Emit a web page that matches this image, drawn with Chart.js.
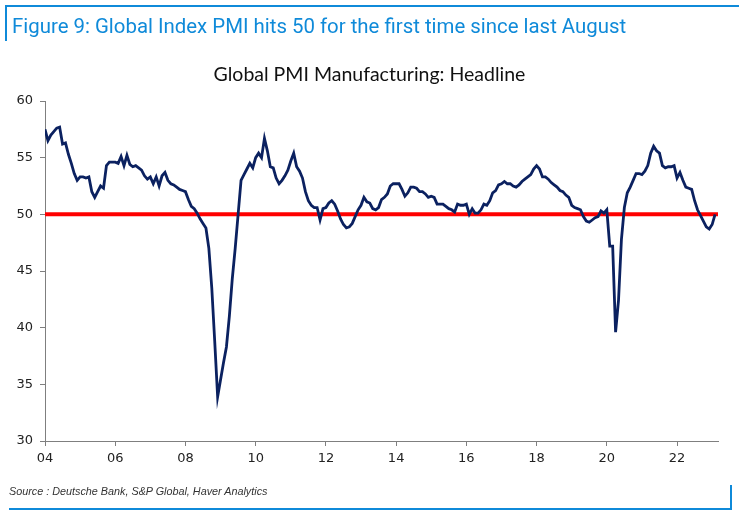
<!DOCTYPE html>
<html>
<head>
<meta charset="utf-8">
<script src="https://cdn.jsdelivr.net/npm/chart.js@4.4.0/dist/chart.umd.min.js"></script>
<style>
    html, body { margin: 0; padding: 0; background: #fff; }
    #wrap { position: relative; width: 739px; height: 515px; overflow: hidden; }
    #myChart { position: absolute; left: 0; top: 0; }
    .frame { position: absolute; background: #0f8ad9; }
    #figTitle {
        position: absolute; left: 12px; top: 14px;
        font-family: Roboto, sans-serif; font-size: 20.4px; color: #0f8ad9;
        white-space: nowrap;
    }
    #chartTitle {
        position: absolute; left: 0; width: 739px; top: 62px; text-align: center;
        font-family: Lato, sans-serif; font-size: 19.5px; color: #111;
    }
    #source {
        position: absolute; left: 9px; top: 485px;
        font-family: "Liberation Sans", sans-serif; font-style: italic; font-size: 10.8px; color: #333;
    }
</style>
</head>
<body>
<div id="wrap">
    <canvas id="myChart" width="739" height="515"></canvas>
    <div class="frame" style="left:5px; top:5px; width:734px; height:2px;"></div>
    <div class="frame" style="left:5px; top:5px; width:2px; height:36px;"></div>
    <div class="frame" style="left:9px; top:508px; width:723px; height:2px;"></div>
    <div class="frame" style="left:730px; top:485px; width:2px; height:25px;"></div>
    <div id="figTitle">Figure 9: Global Index PMI hits 50 for the first time since last August</div>
    <div id="chartTitle">Global PMI Manufacturing: Headline</div>
    <div id="source">Source : Deutsche Bank, S&amp;P Global, Haver Analytics</div>
</div>
<script>
// monthly Global PMI Manufacturing, Jan 2004 .. Feb 2023
const pmiValues = [
    57.5, 56.5, 57.0, 57.3, 57.6, 57.7, 56.2, 56.3, 55.3, 54.5, 53.6, 53.0, // 2004
    53.3, 53.3, 53.2, 53.3, 52.0, 51.5, 52.0, 52.5, 52.3, 54.3, 54.6, 54.6, // 2005
    54.6, 54.5, 55.1, 54.3, 55.2, 54.4, 54.2, 54.3, 54.1, 53.9, 53.4, 53.1, // 2006
    53.3, 52.7, 53.3, 52.5, 53.4, 53.7, 53.0, 52.7, 52.6, 52.4, 52.2, 52.1, // 2007
    52.0, 51.3, 50.7, 50.5, 50.1, 49.6, 49.2, 48.8, 47.0, 43.5, 38.8, 33.9, // 2008
    35.4, 36.9, 38.3, 41.0, 44.3, 47.0, 50.0, 53.0, 53.5, 54.0, 54.5, 54.1, // 2009
    55.0, 55.4, 55.0, 56.7, 55.6, 54.2, 54.1, 53.2, 52.7, 53.0, 53.4, 53.9, // 2010
    54.7, 55.4, 54.2, 53.8, 53.2, 52.0, 51.2, 50.8, 50.6, 50.6, 49.5, 50.5, // 2011
    50.6, 51.0, 51.2, 50.9, 50.3, 49.6, 49.1, 48.8, 48.9, 49.2, 49.8, 50.4, // 2012
    50.8, 51.5, 51.1, 51.0, 50.5, 50.4, 50.6, 51.3, 51.5, 51.8, 52.5, 52.7, // 2013
    52.7, 52.7, 52.2, 51.6, 51.9, 52.4, 52.4, 52.3, 52.0, 52.0, 51.8, 51.5, // 2014
    51.6, 51.5, 50.9, 50.9, 50.9, 50.7, 50.5, 50.4, 50.2, 50.9, 50.8, 50.8, // 2015
    50.9, 50.0, 50.5, 50.1, 50.1, 50.4, 50.9, 50.8, 51.2, 51.9, 52.1, 52.6, // 2016
    52.7, 52.9, 52.7, 52.7, 52.5, 52.4, 52.6, 52.9, 53.1, 53.3, 53.5, 54.0, // 2017
    54.3, 54.0, 53.3, 53.3, 53.1, 52.8, 52.6, 52.4, 52.1, 52.0, 51.7, 51.5, // 2018
    50.8, 50.6, 50.5, 50.4, 49.8, 49.4, 49.3, 49.5, 49.7, 49.8, 50.3, 50.1, // 2019
    50.4, 47.2, 47.2, 39.6, 42.4, 47.8, 50.6, 51.9, 52.4, 53.0, 53.6, 53.6, // 2020
    53.5, 53.8, 54.3, 55.4, 56.0, 55.6, 55.4, 54.3, 54.1, 54.2, 54.2, 54.3, // 2021
    53.2, 53.7, 53.0, 52.4, 52.3, 52.2, 51.2, 50.4, 49.9, 49.4, 48.9, 48.7, // 2022
    49.1, 50.0                                                              // 2023
];

const tickLabels = ["04", "06", "08", "10", "12", "14", "16", "18", "20", "22"];
const tickMonths = [0, 24, 48, 72, 96, 120, 144, 168, 192, 216];
const thresholdValue = 50;
const axisEndMonth = 230;

const lineData = pmiValues.map((v, i) => ({ x: i, y: v }));
const thresholdData = [{ x: 0, y: thresholdValue }, { x: axisEndMonth, y: thresholdValue }];

const axisColor = "#7f7f7f";
const tickFont = { family: "'DejaVu Sans', sans-serif", size: 13 };

const canvas = document.getElementById("myChart");
new Chart(canvas, {
    type: "line",
    data: {
        datasets: [
            {
                data: lineData,
                borderColor: "#0b2160",
                borderWidth: 2.8,
                pointRadius: 0,
                tension: 0
            },
            {
                data: thresholdData,
                borderColor: "#ff0000",
                borderWidth: 4,
                pointRadius: 0,
                tension: 0
            }
        ]
    },
    options: {
        responsive: false,
        animation: false,
        layout: { padding: { top: 101, right: 21, bottom: 44, left: 0 } },
        plugins: {
            legend: { display: false },
            tooltip: { enabled: false }
        },
        scales: {
            x: {
                type: "linear",
                min: 0,
                max: axisEndMonth,
                afterBuildTicks: (scale) => {
                    scale.ticks = tickMonths.map(m => ({ value: m }));
                },
                afterFit: (scale) => { scale.height = 30; },
                ticks: {
                    autoSkip: false,
                    maxRotation: 0,
                    padding: 5,
                    color: "#222",
                    font: tickFont,
                    callback: (value) => tickLabels[tickMonths.indexOf(value)] || ""
                },
                grid: { drawOnChartArea: false, drawTicks: true, tickLength: 5, color: axisColor },
                border: { display: true, color: axisColor, width: 1 }
            },
            y: {
                min: 30,
                max: 60,
                afterFit: (scale) => { scale.width = 45; },
                ticks: {
                    stepSize: 5,
                    padding: 7,
                    color: "#222",
                    font: tickFont
                },
                grid: { drawOnChartArea: false, drawTicks: true, tickLength: 5, color: axisColor },
                border: { display: true, color: axisColor, width: 1 }
            }
        }
    }
});
</script>
</body>
</html>
